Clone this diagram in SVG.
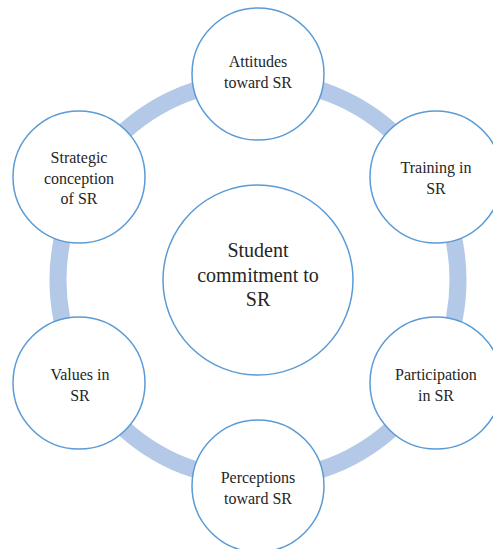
<svg xmlns="http://www.w3.org/2000/svg" width="493" height="549" viewBox="0 0 493 549">
<style>
.node{fill:#ffffff;stroke:#5b9bd5;stroke-width:1.5}
.ring{fill:none;stroke:#b4c8e8;stroke-width:17}
svg text{font-family:Liberation Serif,serif !important;fill:#262626;text-anchor:middle}
</style>
<rect width="493" height="549" fill="#ffffff"/>
<g id="connectors">
<circle class="ring" cx="258" cy="280" r="200"/>
</g>
<g id="center">
<circle class="node" cx="258" cy="280" r="95"/>
<text x="258" y="257" style="font-family:Liberation Serif,serif !important;font-size:20px">Student</text>
<text x="258" y="282" style="font-family:Liberation Serif,serif !important;font-size:20px">commitment to</text>
<text x="258" y="306" style="font-family:Liberation Serif,serif !important;font-size:20px">SR</text>
</g>
<g id="attitudes">
<circle class="node" cx="258" cy="74" r="66"/>
<text x="258" y="67" style="font-family:Liberation Serif,serif !important;font-size:16px">Attitudes</text>
<text x="258" y="88" style="font-family:Liberation Serif,serif !important;font-size:16px">toward SR</text>
</g>
<g id="training">
<circle class="node" cx="436" cy="177" r="66"/>
<text x="436" y="173" style="font-family:Liberation Serif,serif !important;font-size:16px">Training in</text>
<text x="436" y="194" style="font-family:Liberation Serif,serif !important;font-size:16px">SR</text>
</g>
<g id="participation">
<circle class="node" cx="436" cy="383" r="66"/>
<text x="436" y="380" style="font-family:Liberation Serif,serif !important;font-size:16px">Participation</text>
<text x="436" y="401" style="font-family:Liberation Serif,serif !important;font-size:16px">in SR</text>
</g>
<g id="perceptions">
<circle class="node" cx="258" cy="486" r="66"/>
<text x="258" y="483" style="font-family:Liberation Serif,serif !important;font-size:16px">Perceptions</text>
<text x="258" y="504" style="font-family:Liberation Serif,serif !important;font-size:16px">toward SR</text>
</g>
<g id="values">
<circle class="node" cx="79" cy="383" r="66"/>
<text x="80" y="380" style="font-family:Liberation Serif,serif !important;font-size:16px">Values in</text>
<text x="80" y="401" style="font-family:Liberation Serif,serif !important;font-size:16px">SR</text>
</g>
<g id="strategic">
<circle class="node" cx="79" cy="177" r="66"/>
<text x="79" y="163" style="font-family:Liberation Serif,serif !important;font-size:16px">Strategic</text>
<text x="79" y="184" style="font-family:Liberation Serif,serif !important;font-size:16px">conception</text>
<text x="79" y="204" style="font-family:Liberation Serif,serif !important;font-size:16px">of SR</text>
</g>
</svg>
